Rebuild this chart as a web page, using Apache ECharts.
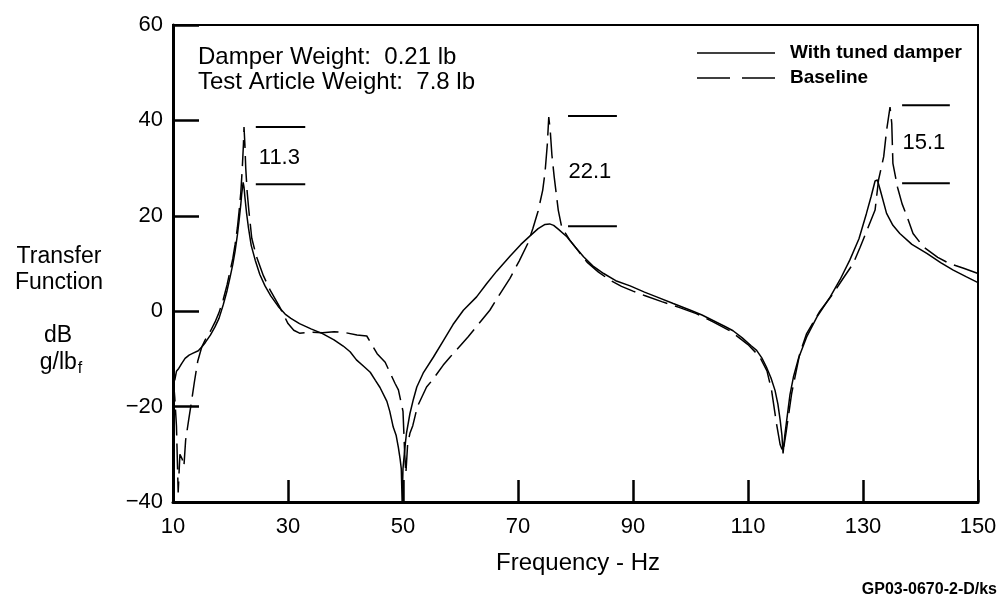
<!DOCTYPE html>
<html>
<head>
<meta charset="utf-8">
<script src="https://cdn.jsdelivr.net/npm/echarts@6/dist/echarts.min.js"></script>
<style>
html,body{margin:0;padding:0;background:#fff;}
#chart{width:1001px;height:599px;}
</style>
</head>
<body>
<div id="chart"></div>
<script>
// ---- data (frequency Hz, transfer function dB) ----
const seriesNames = ['With tuned damper', 'Baseline'];

const withDamper = [
  [10,-13.2],[10.3,-14.5],[10.6,-12.6],[11,-12],[11.5,-11],[12.1,-9.9],[12.8,-9.2],[13.5,-8.8],
  [14.4,-8.3],[15,-7.5],[15.6,-6.6],[16.5,-5],[17.3,-3.3],[18,-1.5],[18.75,1.4],[19.4,4.3],
  [19.9,7],[20.4,9.8],[20.8,12.6],[21.2,16],[21.5,19.1],[21.8,22.5],[21.95,24.6],[22.2,27],
  [22.35,26],[22.5,24],[22.8,20.5],[23.1,17.7],[23.6,13.8],[24.3,10.7],[25.1,7.7],[26,5.3],
  [27,3.2],[28.3,1],[29.5,-0.6],[30.5,-1.5],[32,-2.6],[34,-3.7],[36,-4.7],[38,-6],[39.6,-7.3],
  [40.8,-8.5],[41.9,-10.2],[43.2,-11.6],[44.3,-12.8],[45.2,-14.5],[46,-16],[47.2,-18.9],
  [47.7,-21],[48.3,-24.3],[48.8,-26],[49.2,-28.6],[49.5,-31],[49.7,-33],[49.85,-40],[50,-33],
  [50.3,-29],[50.6,-25.6],[51.2,-21.5],[51.8,-18.5],[52.4,-15.9],[53.5,-13],[55.3,-9.6],
  [57,-6.2],[58.7,-2.8],[60.5,0.2],[62.8,3],[64.5,5.7],[66.3,8.4],[68.6,11.5],[70.5,14],
  [72.1,15.8],[73.5,17.3],[74.7,18.2],[75.5,18.3],[76.2,18],[77,17.2],[78.5,15.6],[80,13.4],
  [81.4,11.4],[83,9.5],[84.9,7.9],[87,6.4],[89.5,5.3],[92,4],[94.1,3],[97,1.6],[100,0.2],
  [102,-0.8],[104,-2],[106,-3.2],[107.4,-4.1],[109,-5.6],[110.5,-7.2],[111.5,-8.2],
  [112.4,-9.8],[113.2,-11.7],[114,-14],[114.7,-16.6],[115.2,-19.5],[115.6,-22.9],[115.9,-26],
  [116.1,-29.8],[116.4,-26],[116.8,-22.2],[117.3,-17.5],[117.9,-13.8],[118.8,-9.8],
  [120.2,-5.4],[122,-1.2],[124.3,3],[126,6.6],[127.7,10.7],[129.3,15.2],[130.6,20.5],
  [131.4,24],[132.1,27.3],[132.5,27.5],[133,25.4],[134.1,20.5],[135.2,18],[136.4,16.3],
  [138.5,14],[141.1,12.1],[143.5,10.2],[145.7,8.6],[148,7.2],[150,6]
];

const baseline = [
  [10,-13.5],[10.3,-18],[10.6,-24],[10.9,-38],[11.2,-30],[11.6,-31],[11.9,-32.5],[12.2,-27],
  [12.7,-23],[13.25,-18.7],[13.7,-15],[14.3,-10.5],[15,-7.5],[15.6,-6],[16.5,-4.2],[17.3,-2.3],
  [18,-0.3],[18.75,2.5],[19.4,5.5],[19.9,8.3],[20.4,11],[20.8,14],[21.2,17.5],[21.5,21],
  [21.8,25],[22.05,30],[22.25,35],[22.35,38.6],[22.5,35],[22.65,30],[22.9,25],[23.2,21],
  [23.7,15.3],[24.5,11.5],[25.7,7.5],[26.9,4.4],[28.5,1],[30,-2.6],[31,-4],[32,-4.6],
  [34,-4.4],[36,-4.5],[38,-4.3],[40,-4.5],[42,-5],[43.7,-5.2],[45.5,-8.9],[46.9,-10.7],
  [48.6,-15.1],[49.2,-16.5],[50,-21],[50.3,-30],[50.5,-34],[50.8,-28],[51.2,-25.6],
  [51.7,-24],[52.5,-20],[54.1,-15.9],[55.2,-14.3],[57,-11.3],[58.2,-9.6],[61.3,-5.4],
  [63,-2.9],[65.1,0.2],[66.9,3.7],[68.6,6.9],[70.2,10.5],[71.7,14.2],[72.6,17.4],[73.5,21],
  [74.3,25.4],[74.7,29.1],[75.1,35],[75.35,40.7],[75.6,38],[75.9,32.7],[76.3,28.1],[77,21.2],
  [77.6,17.6],[79,14.9],[80.5,12.6],[82,10.3],[84,8.2],[86,6.5],[88,5.2],[90,4.2],[92,3.3],
  [95,2],[98,0.8],[101,-0.5],[104,-2.3],[107,-4.2],[110,-7],[112,-9.5],[113.3,-12.5],
  [114.1,-16.6],[115,-23.9],[115.6,-28],[116.1,-29.5],[116.6,-25.6],[117.6,-17.2],[119,-8.9],
  [120.2,-4.7],[122.5,0],[124.8,3.7],[126.5,6.8],[128.3,10],[129.5,13.4],[130.8,17.3],
  [132.1,21.2],[132.7,27.5],[133.6,32.4],[134.1,37.9],[134.7,42.8],[135,39.4],[135.2,31],
  [136,26],[136.8,22.5],[137.7,19.7],[138.7,16.3],[140.5,13.5],[143,11.3],[145,10],
  [147.5,9],[150,7.9]
];

// peak-reduction annotations: [fStart, fEnd, topDb, bottomDb]
const annotRanges = [[24.4, 33.0, 38.6, 26.6], [78.7, 87.2, 40.9, 17.8], [136.8, 145.1, 43.2, 26.8]];
const annotLabels = ['11.3', '22.1', '15.1'];
const annotLabelPos = [[28.5, 32.1], [82.5, 29.1], [140.6, 35.2]];

const xRange = [10, 150, 20];
const yRange = [-40, 60, 20];

const noteLines = ['Damper Weight:  0.21 lb', 'Test Article Weight:  7.8 lb'];

// ---- chart ----
const FONT = '"Liberation Sans", Arial, Helvetica, sans-serif';
const chart = echarts.init(document.getElementById('chart'), null, {renderer: 'canvas'});

const series = [
  {
    name: seriesNames[0], type: 'line', data: withDamper, symbol: 'none', showSymbol: false, smooth: false,
    lineStyle: {color: '#000', width: 1.5, type: 'solid'}, itemStyle: {color: '#000'}, z: 3
  },
  {
    name: seriesNames[1], type: 'line', data: baseline, symbol: 'none', showSymbol: false, smooth: false,
    lineStyle: {color: '#000', width: 1.5, type: [26, 8]}, itemStyle: {color: '#000'}, z: 3
  }
];
annotRanges.forEach((r, i) => {
  [r[2], r[3]].forEach((db, j) => {
    series.push({
      name: 'annot' + i + '_' + j, type: 'line', symbol: 'none', silent: true,
      data: [[r[0], db], [r[1], db]],
      lineStyle: {color: '#000', width: 2}, z: 4
    });
  });
});
series.push({
  name: 'annotText', type: 'scatter', symbolSize: 1, silent: true,
  itemStyle: {opacity: 0, color: '#000'},
  data: annotLabelPos.map((p, i) => [p[0], p[1], annotLabels[i]]),
  label: {
    show: true, position: 'inside', color: '#000', opacity: 1, fontSize: 22, fontFamily: FONT,
    formatter: p => p.value[2]
  }, z: 5
});

const legendX0 = 697, legendX1 = 775, legendY = [53, 78], legendTextX = 790;

const option = {
  animation: false,
  backgroundColor: '#fff',
  grid: {left: 173, right: 23, top: 25, bottom: 97, show: true, borderColor: '#000', borderWidth: 2},
  xAxis: {
    type: 'value', min: xRange[0], max: xRange[1], interval: xRange[2],
    axisLine: {show: true, onZero: false, lineStyle: {color: '#000', width: 3}},
    axisTick: {show: true, inside: true, length: 22, lineStyle: {color: '#000', width: 2.5}},
    splitLine: {show: false},
    axisLabel: {color: '#000', fontSize: 22, fontFamily: FONT, margin: 14, showMinLabel: true, showMaxLabel: true}
  },
  yAxis: {
    type: 'value', min: yRange[0], max: yRange[1], interval: yRange[2],
    axisLine: {show: true, onZero: false, lineStyle: {color: '#000', width: 3}},
    axisTick: {show: true, inside: true, length: 26, lineStyle: {color: '#000', width: 2.5}},
    splitLine: {show: false},
    axisLabel: {
      color: '#000', fontSize: 22, fontFamily: FONT, margin: 10,
      formatter: v => String(v).replace('-', '\u2212')
    }
  },
  graphic: [
    {type: 'line', shape: {x1: legendX0, y1: legendY[0], x2: legendX1, y2: legendY[0]}, style: {stroke: '#000', lineWidth: 1.5}},
    {type: 'line', shape: {x1: legendX0, y1: legendY[1], x2: legendX1, y2: legendY[1]}, style: {stroke: '#000', lineWidth: 1.5, lineDash: [33, 12]}},
    {type: 'text', x: legendTextX, y: legendY[0], style: {text: seriesNames[0], fontSize: 19, fontWeight: 'bold', fontFamily: FONT, fill: '#000', verticalAlign: 'middle'}},
    {type: 'text', x: legendTextX, y: legendY[1], style: {text: seriesNames[1], fontSize: 19, fontWeight: 'bold', fontFamily: FONT, fill: '#000', verticalAlign: 'middle'}},
    {type: 'text', x: 198, y: 57, style: {text: noteLines[0], fontSize: 24, fontFamily: FONT, fill: '#000', verticalAlign: 'middle'}},
    {type: 'text', x: 198, y: 82, style: {text: noteLines[1], fontSize: 24, fontFamily: FONT, fill: '#000', verticalAlign: 'middle'}},
    {type: 'text', x: 59, y: 257, style: {text: 'Transfer', fontSize: 23, fontFamily: FONT, fill: '#000', align: 'center', verticalAlign: 'middle'}},
    {type: 'text', x: 59, y: 283, style: {text: 'Function', fontSize: 23, fontFamily: FONT, fill: '#000', align: 'center', verticalAlign: 'middle'}},
    {type: 'text', x: 58, y: 336, style: {text: 'dB', fontSize: 23, fontFamily: FONT, fill: '#000', align: 'center', verticalAlign: 'middle'}},
    {type: 'text', x: 61, y: 363, style: {
      text: '{m|g/lb}{s|f}', align: 'center', verticalAlign: 'middle', fill: '#000',
      rich: {
        m: {fontSize: 23, fontFamily: FONT, fill: '#000'},
        s: {fontSize: 16, fontFamily: FONT, fill: '#000', padding: [12, 0, 0, 1]}
      }
    }},
    {type: 'text', x: 578, y: 563, style: {text: 'Frequency - Hz', fontSize: 24, fontFamily: FONT, fill: '#000', align: 'center', verticalAlign: 'middle'}},
    {type: 'text', right: 4, top: 582, style: {text: 'GP03-0670-2-D/ks', fontSize: 16, fontWeight: 'bold', fontFamily: FONT, fill: '#000'}}
  ],
  series: series
};
chart.setOption(option);
</script>
</body>
</html>
